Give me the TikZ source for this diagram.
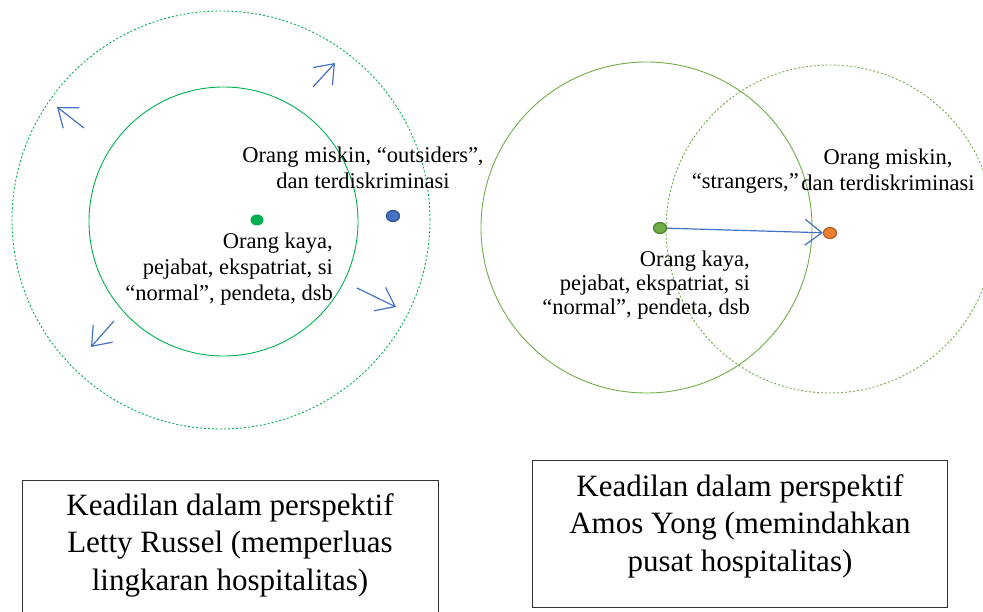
\documentclass[tikz,border=0pt]{standalone}
\usepackage{fontspec}
\setmainfont{Liberation Serif}
\usetikzlibrary{arrows.meta,shapes.geometric}
\definecolor{lgreen}{HTML}{00B050}
\definecolor{rgreen}{HTML}{70AD47}
\definecolor{rgreenD}{HTML}{507E32}
\definecolor{oblue}{HTML}{4472C4}
\definecolor{obluD}{HTML}{2F528F}
\definecolor{oorange}{HTML}{ED7D31}
\definecolor{oorangeD}{HTML}{AE5A21}
\tikzset{
  dotted circle/.style={dash pattern=on 2pt off 2pt, line width=0.9pt},
  arr/.style={draw=oblue, line width=1.2pt, -{Straight Barb[length=17pt,width=26pt,line width=1.2pt]}},
  smalltxt/.style={font=\fontsize{22.5}{26}\selectfont, inner sep=0pt},
  boxtxt/.style={font=\fontsize{31}{37.5}\selectfont, align=center, inner sep=0pt},
  dotshape/.style={shape=ellipse, line width=1.2pt, inner sep=0pt, minimum width=13pt, minimum height=11pt}
}
\begin{document}
\begin{tikzpicture}[x=1pt,y=-1pt]
\useasboundingbox (0,0) rectangle (983,612);
\clip (0,0) rectangle (983,612);
% ---- left diagram ----
\draw[lgreen, dotted circle] (221,220) circle[radius=209pt];
\draw[lgreen, line width=0.9pt] (223.5,221.5) circle[radius=134.5pt];
\node[dotshape, fill=lgreen] (gL) at (257,220) {};
\node[dotshape, fill=oblue, draw=obluD] (bL) at (393,216) {};
\node[smalltxt, align=center] (poorL) at (363,168) {Orang miskin, “outsiders”,\\dan terdiskriminasi};
\node[smalltxt, align=right, anchor=east] (richL) at (333,269) {Orang kaya,\\pejabat, ekspatriat, si\\“normal”, pendeta, dsb};
\coordinate (a1s) at (84,128); \coordinate (a1e) at (57,107);
\coordinate (a2s) at (313,87); \coordinate (a2e) at (335,63);
\coordinate (a3s) at (357,288); \coordinate (a3e) at (396,307);
\coordinate (a4s) at (114,321); \coordinate (a4e) at (91,347);
\draw[arr] (a1s) -- (a1e);
\draw[arr] (a2s) -- (a2e);
\draw[arr] (a3s) -- (a3e);
\draw[arr] (a4s) -- (a4e);
% ---- right diagram ----
\draw[rgreen, line width=0.9pt] (646.5,227.5) circle[radius=165.5pt];
\draw[rgreen, dotted circle] (830,229) circle[radius=164pt];
\node[dotshape, fill=rgreen, draw=rgreenD] (gR) at (660,228) {};
\node[dotshape, fill=oorange, draw=oorangeD] (oR) at (830,233) {};
\draw[arr] (gR) -- (oR);
\node[smalltxt, align=center] (poorR) at (888,170) {Orang miskin,\\dan terdiskriminasi};
\node[smalltxt, anchor=east] (strR) at (799,183) {“strangers,”};
\node[smalltxt, align=right, anchor=east, font=\fontsize{22.5}{24}\selectfont] (richR) at (750,285) {Orang kaya,\\pejabat, ekspatriat, si\\“normal”, pendeta, dsb};
% ---- boxes ----
\draw[line width=1pt, black!80] (22,640) |- (438,480) -- (438,640);
\node[boxtxt] (capL) at (230,545) {Keadilan dalam perspektif\\Letty Russel (memperluas\\lingkaran hospitalitas)};
\draw[line width=1pt, black!80] (532,460) rectangle (947,607);
\node[boxtxt] (capR) at (740,526) {Keadilan dalam perspektif\\Amos Yong (memindahkan\\pusat hospitalitas)};
\end{tikzpicture}
\end{document}
